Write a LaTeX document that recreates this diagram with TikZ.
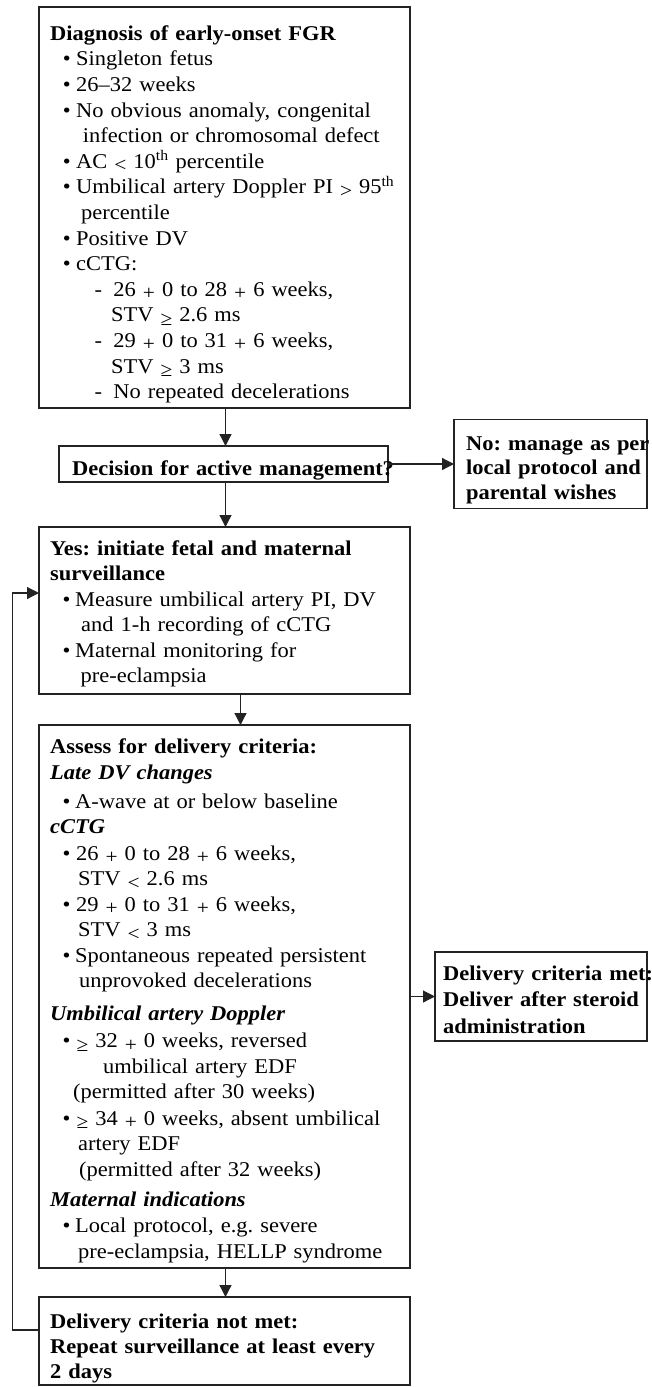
\documentclass[tikz,border=0pt]{standalone}
\usepackage{fontspec}
\setmainfont{Liberation Serif}[FakeStretch=1.07]
\usetikzlibrary{arrows.meta}
\definecolor{ln}{RGB}{35,35,35}
\newcommand\lo[1]{\raisebox{-3.5pt}{\fontsize{20}{20}\selectfont #1}}
\newcommand\lnx[2]{\hspace*{#1pt}#2}
\newcommand\bux[3]{\hspace*{#1pt}\makebox[#2pt][l]{{\fontsize{21}{21}\selectfont\textbullet}}#3}
\newcommand\dsx[3]{\hspace*{#1pt}\makebox[#2pt][l]{-}#3}
\newcommand\strt{\rule{0pt}{20pt}}
\lineskiplimit=-100pt
\frenchspacing
\tikzset{
  box/.style={draw=ln, line width=1.2pt, inner sep=0pt, outer sep=0pt, anchor=north west},
  txt/.style={anchor=north west, inner sep=0pt, text width=560pt, align=left},
  arr/.style={draw=ln, line width=1.2pt, -{Triangle[length=12pt,width=12pt]}}
}
\begin{document}
\frenchspacing
\begin{tikzpicture}[x=1pt,y=-1pt]
\useasboundingbox (0,0) rectangle (651,1387);
% boxes
\node[box, minimum width=371pt, minimum height=401pt] (b1) at (39,7) {};
\node[box, minimum width=329pt, minimum height=36pt] (dec) at (59,446) {};
\node[box, minimum width=193pt, minimum height=89pt] (no) at (454,419.5) {};
\node[box, minimum width=371pt, minimum height=167pt] (b3) at (39,527) {};
\node[box, minimum width=371pt, minimum height=543pt] (b4) at (39,725) {};
\node[box, minimum width=212pt, minimum height=89pt] (met) at (435,952) {};
\node[box, minimum width=371pt, minimum height=88pt] (b5) at (39,1297) {};
% texts
\node[txt, font=\fontsize{21}{25.6}\selectfont\frenchspacing] (t1) at (50,20) {\strt\textbf{Diagnosis of early-onset FGR}\\
\bux{12.7}{13.3}{Singleton fetus}\\
\bux{12.7}{13.3}{26–32 weeks}\\
\bux{12.7}{13.3}{No obvious anomaly, congenital}\\
\lnx{32.7}{infection or chromosomal defect}\\
\bux{12.7}{13.3}{AC \lo{<} 10\textsuperscript{th} percentile}\\
\bux{12.7}{13.3}{Umbilical artery Doppler PI \lo{>} 95\textsuperscript{th}}\\
\lnx{31}{percentile}\\
\bux{12.7}{13.3}{Positive DV}\\
\bux{12.7}{13.3}{cCTG:}\\
\dsx{44.3}{19}{26 \lo{+} 0 to 28 \lo{+} 6 weeks,}\\
\lnx{61}{STV \lo{≥} 2.6 ms}\\
\dsx{44.3}{19}{29 \lo{+} 0 to 31 \lo{+} 6 weeks,}\\
\lnx{61}{STV \lo{≥} 3 ms}\\
\dsx{44.3}{19}{No repeated decelerations}};
\node[txt, font=\fontsize{21}{25}\selectfont\frenchspacing] (tdec) at (72,455.7) {\strt\textbf{Decision for active management?}};
\node[txt, font=\fontsize{21}{24.7}\selectfont\frenchspacing] (tno) at (466,430) {\strt\textbf{No: manage as per}\\
\textbf{local protocol and}\\
\textbf{parental wishes}};
\node[txt, font=\fontsize{21}{25.5}\selectfont\frenchspacing] (t3) at (50,535) {\strt\textbf{Yes: initiate fetal and maternal}\\
\textbf{surveillance}\\
\bux{12.5}{12.5}{Measure umbilical artery PI, DV}\\
\lnx{31}{and 1-h recording of cCTG}\\
\bux{12.5}{12.5}{Maternal monitoring for}\\
\lnx{30.4}{pre-eclampsia}};
\node[txt, font=\fontsize{21}{25.5}\selectfont\frenchspacing] (t4) at (50,733.3) {\strt\textbf{Assess for delivery criteria:}\\
\textbf{\textit{Late DV changes}}\\[3.5pt]
\bux{12.5}{12.5}{A-wave at or below baseline}\\
\textbf{\textit{cCTG}}\\[1pt]
\bux{12.5}{13.5}{26 \lo{+} 0 to 28 \lo{+} 6 weeks,}\\
\lnx{28}{STV \lo{<} 2.6 ms}\\
\bux{12.5}{13.5}{29 \lo{+} 0 to 31 \lo{+} 6 weeks,}\\
\lnx{28}{STV \lo{<} 3 ms}\\
\bux{12.5}{12.5}{Spontaneous repeated persistent}\\
\lnx{29}{unprovoked decelerations}\\[7pt]
\textbf{\textit{Umbilical artery Doppler}}\\[2pt]
\bux{12.5}{14}{\lo{≥} 32 \lo{+} 0 weeks, reversed}\\
\lnx{53}{umbilical artery EDF}\\
\lnx{23}{(permitted after 30 weeks)}\\[1pt]
\bux{12.5}{14}{\lo{≥} 34 \lo{+} 0 weeks, absent umbilical}\\
\lnx{28}{artery EDF}\\
\lnx{29}{(permitted after 32 weeks)}\\[4.5pt]
\textbf{\textit{Maternal indications}}\\[1pt]
\bux{12.5}{12.5}{Local protocol, e.g. severe}\\
\lnx{28}{pre-eclampsia, HELLP syndrome}};
\node[txt, font=\fontsize{21}{26.5}\selectfont\frenchspacing] (tmet) at (443,960) {\strt\textbf{Delivery criteria met:}\\
\textbf{Deliver after steroid}\\
\textbf{administration}};
\node[txt, font=\fontsize{21}{25}\selectfont\frenchspacing] (t5) at (50,1308.3) {\strt\textbf{Delivery criteria not met:}\\
\textbf{Repeat surveillance at least every}\\
\textbf{2 days}};
% connectors
\draw[arr] ([xshift=1pt]b1.south) -- ([xshift=1pt]b1.south |- dec.north);
\draw[arr] (dec.east) -- (no.west);
\draw[arr] ([xshift=2pt]dec.south) -- ([xshift=2pt]dec.south |- b3.north);
\draw[arr] ([xshift=16pt]b3.south) -- ([xshift=16pt]b3.south |- b4.north);
\draw[arr] (b4.east) -- (met.west);
\draw[arr] ([xshift=1pt]b4.south) -- ([xshift=1pt]b4.south |- b5.north);
\coordinate (lpA) at (12.7,1330);
\coordinate (lpB) at (12.7,593);
\draw[arr] (b5.west |- lpA) -- (lpA) |- (b3.west |- lpB);
\end{tikzpicture}
\end{document}
